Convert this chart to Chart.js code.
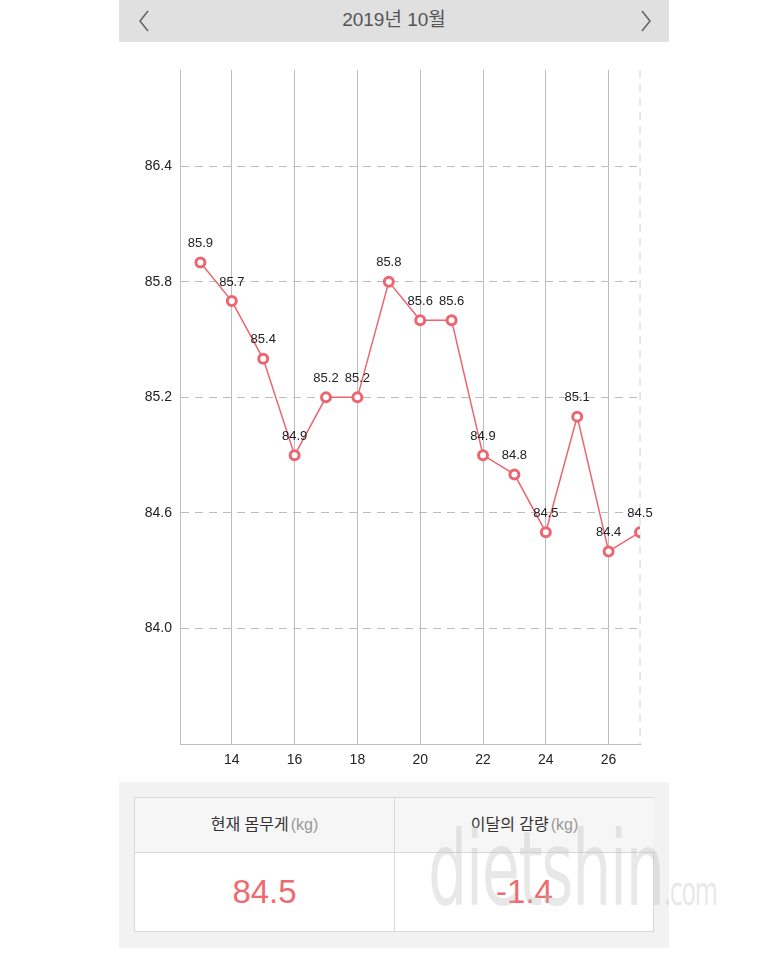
<!DOCTYPE html>
<html>
<head>
<meta charset="utf-8">
<script src="https://cdn.jsdelivr.net/npm/chart.js@4.4.0/dist/chart.umd.min.js"></script>
<style>
    html, body { margin: 0; padding: 0; background: #fff; }
    body { width: 768px; height: 960px; position: relative; overflow: hidden;
        font-family: "Liberation Sans", "Noto Sans CJK KR", sans-serif; }
    .topBar { position: absolute; left: 119px; top: 0; width: 550px; height: 42px; background: #e0e0e0; }
    .topBar .title { position: absolute; left: 0; right: 0; top: 0; line-height: 40px; text-align: center;
        font-size: 19px; color: #555; }
    .topBar svg { position: absolute; top: 9px; }
    .chartBox { position: absolute; left: 119px; top: 42px; width: 550px; height: 740px; }
    .sumBox { position: absolute; left: 119px; top: 782px; width: 550px; height: 166px; background: #f2f2f2; }
    .sumTable { position: absolute; left: 15px; top: 15px; width: 518px; height: 133px; border: 1px solid #d8d8d8; background: #fff; }
    .sumTable .col { position: absolute; top: 0; width: 259px; height: 133px; }
    .sumTable .col.right { left: 259px; border-left: 1px solid #d8d8d8; }
    .sumTable .head { height: 54px; line-height: 54px; text-align: center; background: #f6f6f6;
        border-bottom: 1px solid #d8d8d8; font-size: 16px; color: #333; }
    .sumTable .head span { color: #999; font-size: 16px; margin-left: 2px; }
    .sumTable .val { height: 78px; line-height: 78px; text-align: center; font-size: 33px; color: #ef6a6e; }
    .mark { position: absolute; left: 428px; top: 808px; font-family: "Liberation Sans Narrow", "DejaVu Sans Condensed", sans-serif;
        font-size: 104px; color: rgba(190,190,190,0.35); letter-spacing: -2px; transform: scaleX(0.66); transform-origin: left top;
        pointer-events: none; white-space: nowrap; }
    .mark small { font-size: 40px; }
</style>
</head>
<body>

<div class="topBar">
    <svg style="left:18px" width="14" height="24"><polyline points="11,2 3,12 11,22" fill="none" stroke="#666" stroke-width="1.6"/></svg>
    <div class="title">2019년 10월</div>
    <svg style="left:520px" width="14" height="24"><polyline points="3,2 11,12 3,22" fill="none" stroke="#666" stroke-width="1.6"/></svg>
</div>

<div class="chartBox"><canvas id="chart"></canvas></div>

<div class="sumBox">
    <div class="sumTable">
        <div class="col">
            <div class="head">현재 몸무게<span>(kg)</span></div>
            <div class="val" id="curWeight"></div>
        </div>
        <div class="col right">
            <div class="head">이달의 감량<span>(kg)</span></div>
            <div class="val" id="monthLoss"></div>
        </div>
    </div>
</div>
<div class="mark">dietshin<small>.com</small></div>

<script>
// 날짜 (10월)
const days = [13, 14, 15, 16, 17, 18, 19, 20, 21, 22, 23, 24, 25, 26, 27];
// 몸무게
const weights = [85.9, 85.7, 85.4, 84.9, 85.2, 85.2, 85.8, 85.6, 85.6, 84.9, 84.8, 84.5, 85.1, 84.4, 84.5];
// 축 눈금
const xTicks = [14, 16, 18, 20, 22, 24, 26];
const yTicks = [84.0, 84.6, 85.2, 85.8, 86.4];

const lineColor = '#ec6570';
const tickFont = '"Liberation Sans", sans-serif';

document.getElementById('curWeight').textContent = '84.5';
document.getElementById('monthLoss').textContent = '-1.4';

// 포인트 위 값 표시
const valueLabels = {
    id: 'valueLabels',
    afterDatasetsDraw(chart) {
        const ctx = chart.ctx;
        const meta = chart.getDatasetMeta(0);
        ctx.save();
        ctx.font = '13px ' + tickFont;
        ctx.fillStyle = '#222';
        ctx.textAlign = 'center';
        ctx.textBaseline = 'middle';
        meta.data.forEach((pt, i) => {
            ctx.fillText(weights[i].toFixed(1), pt.x, pt.y - 19);
        });
        ctx.restore();
    }
};

// 오른쪽 끝 점선
const lastDayLine = {
    id: 'lastDayLine',
    beforeDatasetsDraw(chart) {
        const ctx = chart.ctx;
        const x = chart.scales.x.getPixelForValue(days[days.length - 1]);
        const area = chart.chartArea;
        ctx.save();
        ctx.strokeStyle = '#d0d0d0';
        ctx.lineWidth = 1;
        ctx.setLineDash([8, 6]);
        ctx.beginPath();
        ctx.moveTo(x, area.top);
        ctx.lineTo(x, area.bottom);
        ctx.stroke();
        ctx.restore();
    }
};

const weightChart = new Chart(document.getElementById('chart'), {
    type: 'line',
    data: {
        datasets: [{
            label: '몸무게',
            data: days.map((d, i) => ({ x: d, y: weights[i] })),
            borderColor: lineColor,
            borderWidth: 1.5,
            backgroundColor: '#fff',
            pointBackgroundColor: '#fff',
            pointBorderColor: lineColor,
            pointBorderWidth: 3,
            pointRadius: 4.5,
            tension: 0
        }]
    },
    options: {
        responsive: true,
        maintainAspectRatio: false,
        animation: false,
        layout: { padding: { top: 28, right: 29, left: 0, bottom: 0 } },
        plugins: {
            legend: { display: false },
            tooltip: { enabled: false }
        },
        scales: {
            x: {
                type: 'linear',
                min: 12.35,
                max: 27,
                afterBuildTicks: axis => { axis.ticks = xTicks.map(v => ({ value: v })); },
                afterFit: axis => { axis.height = 38; },
                grid: { color: '#bdbdbd', lineWidth: 1, drawTicks: false },
                border: { color: '#bdbdbd', width: 1 },
                ticks: { color: '#222', font: { size: 14, family: tickFont }, padding: 8, maxRotation: 0 }
            },
            y: {
                min: 83.4,
                max: 86.9,
                afterBuildTicks: axis => { axis.ticks = yTicks.map(v => ({ value: v })); },
                afterFit: axis => { axis.width = 61; },
                grid: { color: '#bdbdbd', lineWidth: 1, drawTicks: false },
                border: { color: '#bdbdbd', width: 1, dash: [8, 6] },
                ticks: {
                    color: '#222',
                    font: { size: 14, family: tickFont },
                    padding: 8,
                    callback: v => Number(v).toFixed(1)
                }
            }
        }
    },
    plugins: [valueLabels, lastDayLine]
});
</script>
</body>
</html>
